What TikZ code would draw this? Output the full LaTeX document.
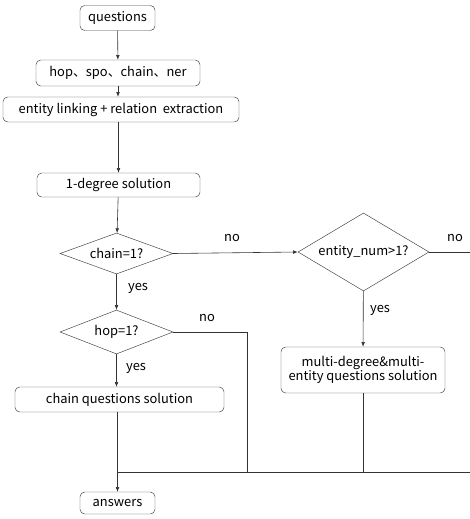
\documentclass[tikz,border=0pt]{standalone}
\usepackage{fontspec}
\setmainfont{Noto Sans CJK SC}
\usetikzlibrary{shapes.geometric,arrows.meta,positioning}

\tikzset{
  procbox/.style={draw=black!75, rounded corners=4pt, inner sep=0pt, align=center, font=\fontsize{11}{12.5}\selectfont},
  decision/.style={draw=black!75, diamond, inner sep=0pt, aspect=2.6, font=\fontsize{11}{12.5}\selectfont},
  flow/.style={draw=black!80, line width=0.5pt, -{Latex[length=4pt,width=3.2pt]}},
  plain/.style={draw=black!80, line width=0.5pt},
  tag/.style={font=\fontsize{11}{12.5}\selectfont}
}

\begin{document}
\begin{tikzpicture}[x=0.03cm, y=-0.03cm]
\useasboundingbox (0,0) rectangle (470,519);

% boxes on the main line
\node[procbox, minimum width=2.25cm, minimum height=0.75cm] (questions) at (117.5,18) {questions};
\node[procbox, minimum width=4.92cm, minimum height=0.78cm] (feature) at (118,73) {hop、spo、chain、ner};
\node[procbox, minimum width=7.08cm, minimum height=0.75cm] (linking) at (121,109.5) {entity linking + relation~ extraction};
\node[procbox, minimum width=4.89cm, minimum height=0.72cm] (onedeg) at (118.5,185) {1-degree solution};

% decisions
\node[decision, minimum width=3.39cm, minimum height=1.23cm] (chain) at (116.5,253.5) {chain=1?};
\node[decision, minimum width=3.39cm, minimum height=1.32cm] (hop) at (116.5,332) {hop=1?};
\node[decision, minimum width=3.93cm, minimum height=2.34cm] (entnum) at (363.5,252) {entity\_num>1?};

% solutions
\node[procbox, minimum width=6.27cm, minimum height=0.75cm] (chainsol) at (119.5,399.5) {chain questions solution};
\node[procbox, minimum width=4.92cm, minimum height=1.38cm] (multisol) at (363,370) {multi-degree\&multi-\\entity questions solution};
\node[procbox, minimum width=2.25cm, minimum height=0.66cm] (answers) at (117.5,503) {answers};

% helper points
\coordinate (hopturn) at (247,332);
\coordinate (hopdown) at (247,472);
\coordinate (merge) at (117.5,472);
\coordinate (multidown) at (363,472);
\coordinate (rightend) at (470,472);
\coordinate (noend) at (470,252);

% connectors
\draw[flow] (questions) -- (feature);
\draw[flow] (feature) -- (feature |- linking.north);
\draw[flow] (linking.south -| onedeg) -- (onedeg);
\draw[flow] (onedeg) -- (chain);
\draw[flow] (chain) -- (hop);
\draw[flow] (hop) -- (hop |- chainsol.north);
\draw[flow] (chain.east) -- (entnum.west);
\draw[flow] (entnum) -- (multisol);
\draw[plain] (entnum.east) -- (noend);
\draw[plain] (hop.east) -- (hopturn) -- (hopdown);
\draw[plain] (chainsol.south -| merge) -- (merge);
\draw[plain] (multisol) -- (multidown);
\draw[plain] (merge) -- (rightend);
\draw[flow] (merge) -- (answers);

% labels
\node[tag] at (232,238) {no};
\node[tag] at (455,238) {no};
\node[tag] at (207,318) {no};
\node[tag] at (138,288) {yes};
\node[tag] at (136,368) {yes};
\node[tag] at (380,310) {yes};
\end{tikzpicture}
\end{document}
